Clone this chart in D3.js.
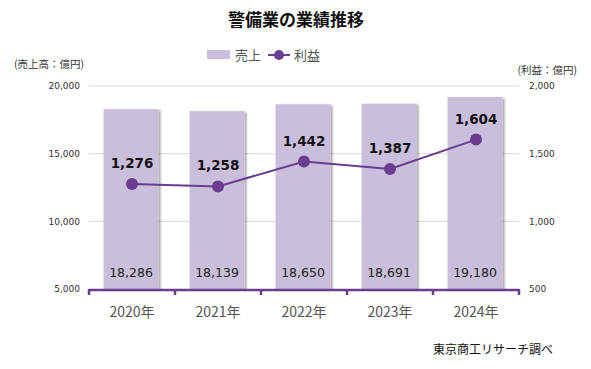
<!DOCTYPE html>
<html><head><meta charset="utf-8">
<script src="https://cdn.jsdelivr.net/npm/d3@7"></script>
<style>body{margin:0;background:#fff;font-family:"Noto Sans CJK JP","DejaVu Sans",sans-serif;}</style>
</head><body><svg id="c" width="591" height="369"></svg>
<script>
const categories = ["2020年","2021年","2022年","2023年","2024年"];
const sales = [18286,18139,18650,18691,19180];
const profit = [1276,1258,1442,1387,1604];
const leftTicks = [5000,10000,15000,20000];
const rightTicks = [500,1000,1500,2000];

const svg = d3.select("#c");
const m = {l:89, r:519, t:86, b:289};
const x = d3.scaleBand().domain(categories).range([m.l, m.r]);
const yL = d3.scaleLinear().domain([5000,20000]).range([m.b, m.t]);
const yR = d3.scaleLinear().domain([500,2000]).range([m.b, m.t]);
const numFont = "Verdana, 'DejaVu Sans', sans-serif";

const defs = svg.append("defs");
const f = defs.append("filter").attr("id","sh").attr("x","-20%").attr("y","-5%").attr("width","150%").attr("height","120%");
f.append("feDropShadow").attr("dx",2).attr("dy",1).attr("stdDeviation",1.2).attr("flood-color","#000").attr("flood-opacity",0.35);

// title
svg.append("text").attr("x",296).attr("y",26).attr("text-anchor","middle")
  .attr("font-size",17).attr("font-weight","bold").attr("fill","#111").text("警備業の業績推移");

// legend
svg.append("rect").attr("x",207).attr("y",50).attr("width",23).attr("height",9).attr("fill","#c9bfdc");
svg.append("text").attr("x",235).attr("y",60).attr("font-size",13).attr("fill","#555").text("売上");
svg.append("line").attr("x1",268).attr("x2",290).attr("y1",55).attr("y2",55).attr("stroke","#6a3d8f").attr("stroke-width",2);
svg.append("circle").attr("cx",279).attr("cy",55).attr("r",5).attr("fill","#6a3d8f");
svg.append("text").attr("x",294).attr("y",60).attr("font-size",13).attr("fill","#555").text("利益");

// unit labels
svg.append("text").attr("x",14).attr("y",68).attr("font-size",10.5).attr("fill","#333").text("(売上高：億円)");
svg.append("text").attr("x",577).attr("y",74).attr("text-anchor","end").attr("font-size",10.5).attr("fill","#333").text("(利益：億円)");

// grid
svg.append("g").selectAll("line").data(leftTicks.slice(1)).join("line")
  .attr("x1",m.l).attr("x2",m.r).attr("y1",d=>yL(d)).attr("y2",d=>yL(d))
  .attr("stroke","#d9d9d9").attr("stroke-width",1);

// axes
const fmt = d3.format(",");
svg.append("g").attr("transform",`translate(${m.l},0)`)
  .call(d3.axisLeft(yL).tickValues(leftTicks).tickFormat(fmt).tickSize(0).tickPadding(9))
  .call(g=>g.select(".domain").remove())
  .call(g=>g.selectAll("text").attr("font-family",numFont).attr("font-size",9).attr("fill","#333"));
svg.append("g").attr("transform",`translate(${m.r},0)`)
  .call(d3.axisRight(yR).tickValues(rightTicks).tickFormat(fmt).tickSize(0).tickPadding(10))
  .call(g=>g.select(".domain").remove())
  .call(g=>g.selectAll("text").attr("font-family",numFont).attr("font-size",9).attr("fill","#333"));

// bars
const bw = 55;
svg.append("g").selectAll("rect").data(sales).join("rect")
  .attr("x",(d,i)=>x(categories[i])+x.bandwidth()/2-bw/2-1)
  .attr("width",bw).attr("y",d=>yL(d)).attr("height",d=>m.b-yL(d))
  .attr("fill","#c9bfdc").attr("filter","url(#sh)");

// bar labels
svg.append("g").selectAll("text").data(sales).join("text")
  .attr("x",(d,i)=>x(categories[i])+x.bandwidth()/2-1).attr("y",277)
  .attr("text-anchor","middle").attr("font-family",numFont).attr("font-size",12.5).attr("fill","#222")
  .text(d=>fmt(d));

// x axis
const xa = svg.append("g");
xa.append("line").attr("x1",m.l).attr("x2",m.r).attr("y1",m.b+1).attr("y2",m.b+1).attr("stroke","#6a3d8f").attr("stroke-width",2.5);
const bounds = categories.map(c=>x(c)).concat([m.r]);
xa.selectAll(".tk").data(bounds).join("line").attr("class","tk")
  .attr("x1",d=>d).attr("x2",d=>d).attr("y1",m.b).attr("y2",m.b+6).attr("stroke","#6a3d8f").attr("stroke-width",2.5);
xa.selectAll(".cl").data(categories).join("text").attr("class","cl")
  .attr("x",d=>x(d)+x.bandwidth()/2).attr("y",317).attr("text-anchor","middle")
  .attr("font-size",14).attr("fill","#555").text(d=>d);

// line
const cx = (d,i)=>x(categories[i])+x.bandwidth()/2;
svg.append("path").datum(profit)
  .attr("d",d3.line().x(cx).y(d=>yR(d)))
  .attr("fill","none").attr("stroke","#6a3d8f").attr("stroke-width",2);
svg.append("g").selectAll("circle").data(profit).join("circle")
  .attr("cx",cx).attr("cy",d=>yR(d)).attr("r",6).attr("fill","#6a3d8f");
svg.append("g").selectAll("text").data(profit).join("text")
  .attr("x",cx).attr("y",d=>yR(d)-16).attr("text-anchor","middle")
  .attr("font-family",numFont).attr("font-size",13.5).attr("font-weight","bold").attr("fill","#111")
  .text(d=>fmt(d));

// source
svg.append("text").attr("x",553).attr("y",354).attr("text-anchor","end")
  .attr("font-size",12).attr("fill","#111").text("東京商工リサーチ調べ");
</script></body></html>
